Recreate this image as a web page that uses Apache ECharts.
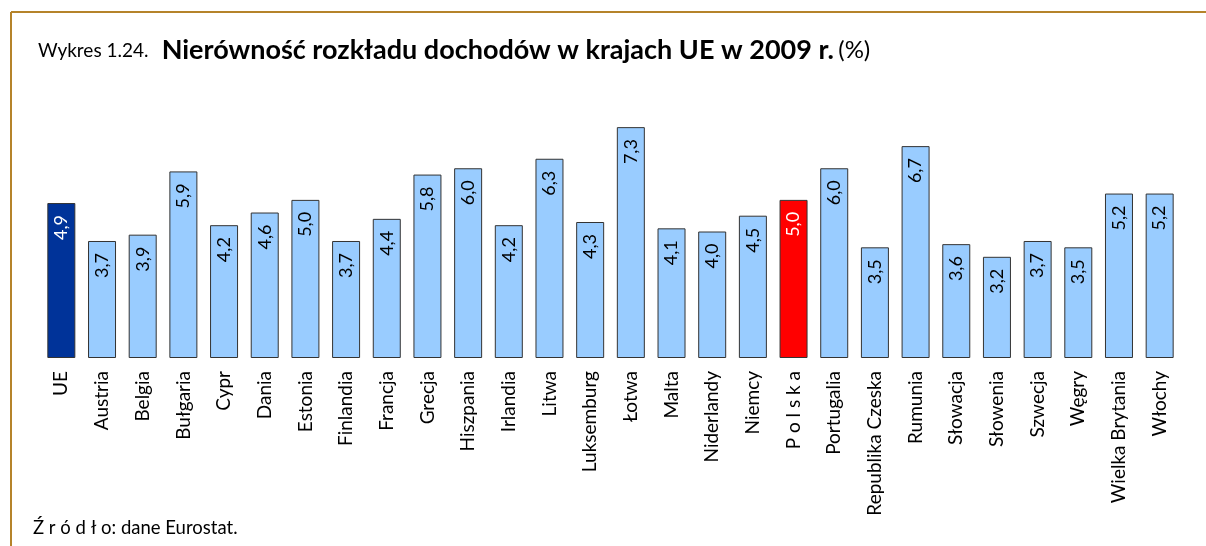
<!DOCTYPE html>
<html>
<head>
<meta charset="utf-8">
<script src="https://cdn.jsdelivr.net/npm/echarts@6/dist/echarts.min.js"></script>
<style>
  html, body { margin: 0; padding: 0; background: #fff; }
  #chart { width: 1206px; height: 546px; }
</style>
</head>
<body>
<div id="chart"></div>
<script>
  // kraje i wartości (%)
  var countries = ['UE', 'Austria', 'Belgia', 'Bułgaria', 'Cypr', 'Dania', 'Estonia', 'Finlandia', 'Francja',
    'Grecja', 'Hiszpania', 'Irlandia', 'Litwa', 'Luksemburg', 'Łotwa', 'Malta', 'Niderlandy', 'Niemcy',
    'P o l s k a', 'Portugalia', 'Republika Czeska', 'Rumunia', 'Słowacja', 'Słowenia', 'Szwecja', 'Węgry',
    'Wielka Brytania', 'Włochy'];
  var values = [4.9, 3.7, 3.9, 5.9, 4.2, 4.6, 5.0, 3.7, 4.4, 5.8, 6.0, 4.2, 6.3, 4.3, 7.3, 4.1, 4.0, 4.5,
    5.0, 6.0, 3.5, 6.7, 3.6, 3.2, 3.7, 3.5, 5.2, 5.2];

  var FONT = 'Lato';
  var myChart = echarts.init(document.getElementById('chart'));

  var barData = values.map(function (v, i) {
    var item = { value: v };
    if (countries[i] === 'UE') {
      item.itemStyle = { color: '#003399' };
      item.label = { color: '#fff' };
    } else if (countries[i] === 'P o l s k a') {
      item.itemStyle = { color: '#ff0000' };
      item.label = { color: '#fff' };
    }
    return item;
  });

  myChart.setOption({
    backgroundColor: '#fff',
    animation: false,
    textStyle: { fontFamily: FONT },
    title: {
      left: 33,
      top: 32,
      text: '{a|Wykres 1.24.}   {b|Nierówność rozkładu dochodów w krajach UE w 2009 r.} {c|(%)}',
      textStyle: {
        rich: {
          a: { fontFamily: FONT, fontSize: 19, fontWeight: 'normal', color: '#000' },
          b: { fontFamily: FONT, fontSize: 27, fontWeight: 'bold', color: '#000' },
          c: { fontFamily: FONT, fontSize: 24, fontWeight: 'normal', color: '#000' }
        }
      }
    },
    graphic: [
      { type: 'line', shape: { x1: 11, y1: 12, x2: 1206, y2: 12 }, style: { stroke: '#b5832a', lineWidth: 2 } },
      { type: 'line', shape: { x1: 11, y1: 12, x2: 11, y2: 546 }, style: { stroke: '#b5832a', lineWidth: 2 } },
      { type: 'text', left: 33, top: 519, style: { text: 'Ź r ó d ł o: dane Eurostat.', font: '18.5px ' + FONT, fill: '#000' } }
    ],
    grid: { left: 41, right: 26, top: 105, bottom: 188 },
    xAxis: {
      type: 'category',
      data: countries,
      axisLine: { show: false },
      axisTick: { show: false },
      axisLabel: { rotate: 90, interval: 0, margin: 13, fontSize: 19, color: '#000', fontFamily: FONT }
    },
    yAxis: {
      type: 'value',
      min: 0,
      max: 8,
      show: false
    },
    series: [{
      type: 'bar',
      data: barData,
      barWidth: 28,
      itemStyle: { color: '#99ccff', borderColor: '#333', borderWidth: 1 },
      label: {
        show: true,
        position: 'insideTop',
        rotate: 90,
        align: 'right',
        verticalAlign: 'middle',
        distance: 12,
        fontSize: 18,
        color: '#000',
        fontFamily: FONT,
        formatter: function (p) { return p.value.toFixed(1).replace('.', ','); }
      }
    }]
  });
</script>
</body>
</html>
